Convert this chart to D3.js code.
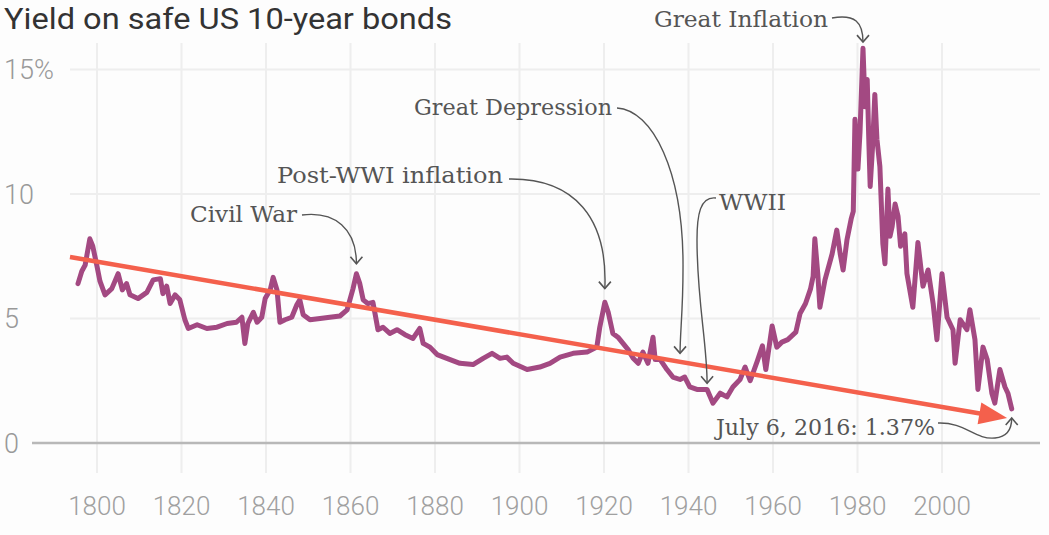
<!DOCTYPE html>
<html>
<head>
<meta charset="utf-8">
<script src="https://cdn.jsdelivr.net/npm/d3@7"></script>
<style>
  body { margin: 0; background: #fdfdfd; }
  svg { display: block; }
</style>
</head>
<body>
<svg id="chart" width="1049" height="535"></svg>
<script>
// Yield readings (year, percent)
var years = [1795.5, 1796.4, 1797.2, 1798.3, 1799, 1800, 1800.7, 1801.9, 1803.5, 1805, 1806, 1807, 1807.8,
  1809.7, 1811.8, 1813.3, 1815, 1815.6, 1816.5, 1817.3, 1818.5, 1819.6, 1820.8, 1821.6, 1823.7, 1826,
  1828.4, 1830.8, 1833, 1834.3, 1835, 1835.7, 1837, 1837.9, 1839, 1839.8, 1841, 1841.7, 1842.6, 1843.3,
  1844.5, 1846.1, 1847.3, 1848, 1848.8, 1850.4, 1852.8, 1855.1, 1857.5, 1859.2, 1860.6, 1861.4, 1862.2,
  1863, 1864.1, 1865.3, 1865.8, 1866.5, 1867.7, 1869.3, 1871, 1872.9, 1874.8, 1876.4, 1877.2, 1878.8,
  1880.5, 1882.8, 1885.9, 1889, 1891.4, 1893.5, 1895.4, 1897, 1898.5, 1901.8, 1904.8, 1907.2, 1909.6,
  1912.7, 1916, 1918.3, 1919, 1920.2, 1921, 1922.1, 1923.3, 1924.5, 1925.7, 1926.9, 1928.1, 1929.2,
  1930.4, 1931.6, 1932.1, 1933.3, 1934.9, 1936.3, 1938, 1939.1, 1940.3, 1942, 1944.4, 1945.8, 1947.5,
  1949.1, 1950.5, 1952.2, 1953.4, 1954.6, 1956.3, 1957.5, 1958.3, 1959.8, 1960.9, 1962.1, 1963.5,
  1965.4, 1966.4, 1967.7, 1968.9, 1969.5, 1969.9, 1970.6, 1971.1, 1972.3, 1974, 1975.1, 1975.9, 1976.6,
  1977.5, 1978.5, 1979, 1979.4, 1980.1, 1980.6, 1981.3, 1981.8, 1982.3, 1982.7, 1983, 1983.6, 1984.1,
  1984.6, 1985.3, 1986, 1986.5, 1987.2, 1987.7, 1988.2, 1988.9, 1989.6, 1990.2, 1991.2, 1991.7, 1993.1,
  1994.3, 1995.5, 1996.7, 1997.9, 1998.8, 2000, 2001.2, 2002.6, 2003.1, 2004.3, 2005.9, 2006.6, 2007.8,
  2008.5, 2009.7, 2010.7, 2011.8, 2012.5, 2013.7, 2014.9, 2015.6, 2016.5];
var yields = [6.4, 6.9, 7.15, 8.2, 7.9, 7.1, 6.5, 5.95, 6.2, 6.8, 6.15, 6.4, 5.95,
  5.8, 6.05, 6.55, 6.6, 6.0, 6.3, 5.6, 5.95, 5.75, 4.95, 4.6, 4.75, 4.6,
  4.65, 4.8, 4.85, 5.05, 4.0, 4.8, 5.25, 4.85, 5.05, 5.8, 6.15, 6.65, 6.15, 4.85,
  4.95, 5.05, 5.55, 5.75, 5.15, 4.95, 5.0, 5.05, 5.1, 5.35, 6.2, 6.8, 6.4,
  5.75, 5.6, 5.65, 5.2, 4.55, 4.65, 4.4, 4.55, 4.35, 4.2, 4.6, 4.0, 3.85,
  3.55, 3.4, 3.2, 3.15, 3.4, 3.6, 3.4, 3.45, 3.2, 2.95, 3.05, 3.2, 3.45,
  3.6, 3.65, 3.85, 4.65, 5.65, 5.25, 4.4, 4.25, 4.0, 3.75, 3.4, 3.2, 3.65,
  3.2, 4.25, 3.35, 3.35, 2.95, 2.65, 2.55, 2.65, 2.25, 2.15, 2.15, 1.6, 2.0,
  1.85, 2.25, 2.55, 3.05, 2.5, 3.3, 3.9, 2.95, 4.7, 3.85, 4.05, 4.15,
  4.45, 5.2, 5.6, 6.2, 6.7, 8.2, 6.8, 5.45, 6.55, 7.6, 8.55, 7.6, 6.95,
  8.15, 9.0, 9.3, 13.0, 11.0, 12.5, 15.85, 13.5, 14.6, 12.0, 10.3, 12.0, 14.0,
  12.2, 11.1, 8.0, 7.2, 10.2, 8.3, 8.7, 9.6, 9.1, 7.9, 8.4, 6.8, 5.45,
  8.05, 6.3, 6.95, 5.6, 4.15, 6.8, 5.05, 4.55, 3.2, 4.95, 4.55, 5.35, 4.15,
  2.15, 3.85, 3.35, 2.0, 1.6, 2.95, 2.25, 2.0, 1.37];

// Long-run trend arrow
var trendYears = [1793.6, 2015.4];
var trendValues = [7.47, 1.0];

var xTicks = [1800, 1820, 1840, 1860, 1880, 1900, 1920, 1940, 1960, 1980, 2000];
var yTicks = [0, 5, 10, 15];
var yTickLabels = ["0", "5", "10", "15%"];

// Annotated events: label and the point the arrow touches
var notes = [
  { text: "Civil War", year: 1861.4, value: 7.2 },
  { text: "Post-WWI inflation", year: 1920.2, value: 6.2 },
  { text: "Great Depression", year: 1938.0, value: 3.6 },
  { text: "WWII", year: 1944.4, value: 2.4 },
  { text: "Great Inflation", year: 1981.3, value: 16.1 },
  { text: "July 6, 2016: 1.37%", year: 2016.5, value: 1.0 }
];

var svg = d3.select("#chart");
var x = d3.scaleLinear().domain([1800, 2000]).range([97, 942]);
var y = d3.scaleLinear().domain([0, 15]).range([443, 69.5]);

// grid
svg.append("g").selectAll("line").data(xTicks).join("line")
  .attr("x1", d => x(d)).attr("x2", d => x(d))
  .attr("y1", 43).attr("y2", 473)
  .attr("stroke", "#eeeeee").attr("stroke-width", 2);

svg.append("g").selectAll("line").data(yTicks.slice(1)).join("line")
  .attr("x1", 70).attr("x2", 1040)
  .attr("y1", d => y(d)).attr("y2", d => y(d))
  .attr("stroke", "#eeeeee").attr("stroke-width", 2);

svg.append("line")
  .attr("x1", 32).attr("x2", 1040)
  .attr("y1", y(0)).attr("y2", y(0))
  .attr("stroke", "#b8b8b8").attr("stroke-width", 2.5);

// axis labels
svg.append("g").selectAll("text").data(yTicks).join("text")
  .attr("x", 4).attr("y", d => y(d))
  .attr("dy", "0.36em")
  .attr("font-family", "Roboto, sans-serif").attr("font-weight", 300)
  .attr("font-size", 27).attr("fill", "#999")
  .text((d, i) => yTickLabels[i]);

svg.append("g").selectAll("text").data(xTicks).join("text")
  .attr("x", d => x(d)).attr("y", 515)
  .attr("text-anchor", "middle")
  .attr("font-family", "Roboto, sans-serif").attr("font-weight", 300)
  .attr("font-size", 26).attr("fill", "#a0a0a0")
  .text(d => d);

// title
svg.append("text")
  .attr("x", 4).attr("y", 29)
  .attr("font-family", "Roboto, sans-serif")
  .attr("font-size", 29).attr("fill", "#333")
  .attr("textLength", 448).attr("lengthAdjust", "spacingAndGlyphs")
  .text("Yield on safe US 10-year bonds");

// yield line
var series = years.map((yr, i) => [yr, yields[i]]);
var line = d3.line().x(d => x(d[0])).y(d => y(d[1]));
svg.append("path")
  .datum(series)
  .attr("d", line)
  .attr("fill", "none")
  .attr("stroke", "#a34982")
  .attr("stroke-width", 5)
  .attr("stroke-linejoin", "round")
  .attr("stroke-linecap", "round");

// trend arrow
var tx0 = x(trendYears[0]), ty0 = y(trendValues[0]);
var tx1 = x(trendYears[1]), ty1 = y(trendValues[1]);
var ang = Math.atan2(ty1 - ty0, tx1 - tx0);
var headLen = 28, headHalf = 11;
var bx = tx1 - headLen * Math.cos(ang), by = ty1 - headLen * Math.sin(ang);
svg.append("line")
  .attr("x1", tx0).attr("y1", ty0)
  .attr("x2", bx + 2 * Math.cos(ang)).attr("y2", by + 2 * Math.sin(ang))
  .attr("stroke", "#f4604c").attr("stroke-width", 4.5);
svg.append("path")
  .attr("d", "M" + tx1 + "," + ty1 +
    "L" + (bx + headHalf * Math.sin(ang)) + "," + (by - headHalf * Math.cos(ang)) +
    "L" + (bx - headHalf * Math.sin(ang)) + "," + (by + headHalf * Math.cos(ang)) + "Z")
  .attr("fill", "#f4604c");

// annotations: label spot, label width and curve shape (pixels)
var noteLayout = {
  "Civil War": { lx: 190, ly: 222, w: 107, path: function(px, py) {
    return "M302,215C335,211 " + px + "," + (py - 35) + " " + px + "," + py; }, dir: "down" },
  "Post-WWI inflation": { lx: 277, ly: 183, w: 226, path: function(px, py) {
    return "M509,179C575,178 " + (px + 3) + "," + (py - 70) + " " + px + "," + py; }, dir: "down" },
  "Great Depression": { lx: 414, ly: 115, w: 198, path: function(px, py) {
    return "M617,108C652,110 684,170 683,270C683,310 " + px + "," + (py - 20) + " " + px + "," + py; }, dir: "down" },
  "WWII": { lx: 719, ly: 210, w: 67, path: function(px, py) {
    return "M716,198C700,196 697,215 697,240C697,300 " + px + "," + (py - 40) + " " + px + "," + py; }, dir: "down" },
  "Great Inflation": { lx: 654, ly: 27, w: 174, path: function(px, py) {
    return "M832,18C855,14 " + px + "," + (py - 20) + " " + px + "," + py; }, dir: "down" },
  "July 6, 2016: 1.37%": { lx: 716, ly: 435, w: 219, path: function(px, py) {
    return "M938,423C965,422 975,440 995,438C1008,437 " + px + "," + (py + 10) + " " + px + "," + py; }, dir: "up" }
};

var ng = svg.append("g");
notes.forEach(function(n) {
  var L = noteLayout[n.text];
  var px = x(n.year), py = y(n.value);
  ng.append("text")
    .attr("x", L.lx).attr("y", L.ly)
    .attr("font-family", "'DejaVu Serif', serif")
    .attr("font-size", 21.5).attr("fill", "#555")
    .attr("textLength", L.w).attr("lengthAdjust", "spacingAndGlyphs")
    .text(n.text);
  ng.append("path")
    .attr("d", L.path(px, py))
    .attr("fill", "none").attr("stroke", "#555").attr("stroke-width", 1.4);
  var s = L.dir == "down" ? -1 : 1;
  ng.append("path")
    .attr("d", "M" + (px - 6) + "," + (py + s * 7) + "L" + px + "," + py + "L" + (px + 6) + "," + (py + s * 7))
    .attr("fill", "none").attr("stroke", "#555").attr("stroke-width", 1.6);
});
</script>
</body>
</html>
